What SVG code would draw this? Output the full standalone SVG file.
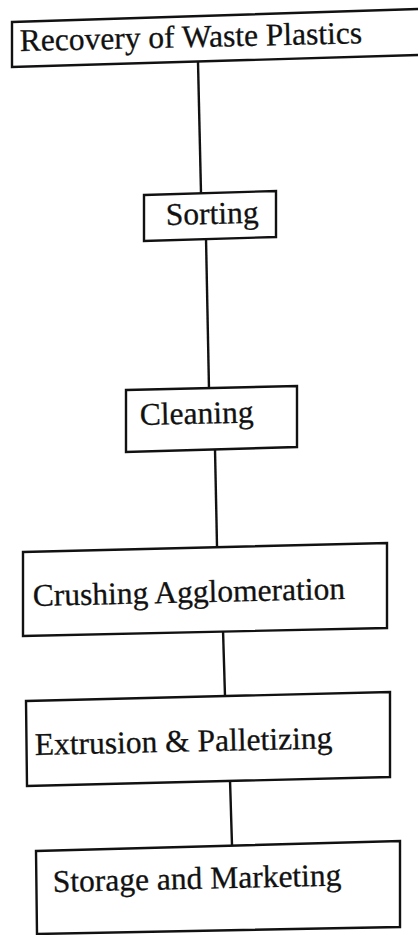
<svg xmlns="http://www.w3.org/2000/svg" width="418" height="935" viewBox="0 0 418 935">
<style>
.box{fill:#fff;stroke:#111;stroke-width:2.4;stroke-linejoin:miter}
.lbl{font-family:"Liberation Serif","Times New Roman",serif;font-size:31.5px;fill:#111;stroke:#111;stroke-width:0.3}
.con{stroke:#111;stroke-width:2.4;fill:none}
</style>
<rect width="418" height="935" fill="#fff"/>
<g id="connectors">
<line class="con" x1="198" y1="62" x2="201" y2="193"/>
<line class="con" x1="206" y1="238" x2="209" y2="389"/>
<line class="con" x1="215" y1="449" x2="217" y2="546"/>
<line class="con" x1="223" y1="630" x2="225" y2="696"/>
<line class="con" x1="230" y1="780" x2="232" y2="845"/>
</g>
<g id="node-recovery">
<polygon class="box" points="12,22 420,9 420,55 12,67"/>
<text class="lbl" x="20" y="51" transform="rotate(-1.3 20 51)">Recovery of Waste Plastics</text>
</g>
<g id="node-sorting">
<polygon class="box" points="144,195 276,191 276,237 144,241"/>
<text class="lbl" x="166" y="225" transform="rotate(-1.3 166 225)">Sorting</text>
</g>
<g id="node-cleaning">
<polygon class="box" points="126,390 297,386 297,447 126,452"/>
<text class="lbl" x="140" y="425" transform="rotate(-1.3 140 425)">Cleaning</text>
</g>
<g id="node-crushing">
<polygon class="box" points="23,552 387,543 387,628 23,636"/>
<text class="lbl" x="33" y="606" transform="rotate(-1.3 33 606)">Crushing Agglomeration</text>
</g>
<g id="node-extrusion">
<polygon class="box" points="26,701 390,692 390,777 27,786"/>
<text class="lbl" x="35" y="755" transform="rotate(-1.3 35 755)">Extrusion &amp; Palletizing</text>
</g>
<g id="node-storage">
<polygon class="box" points="36,851 400,841 400,927 37,934"/>
<text class="lbl" x="53" y="892" transform="rotate(-1.3 53 892)">Storage and Marketing</text>
</g>
</svg>
